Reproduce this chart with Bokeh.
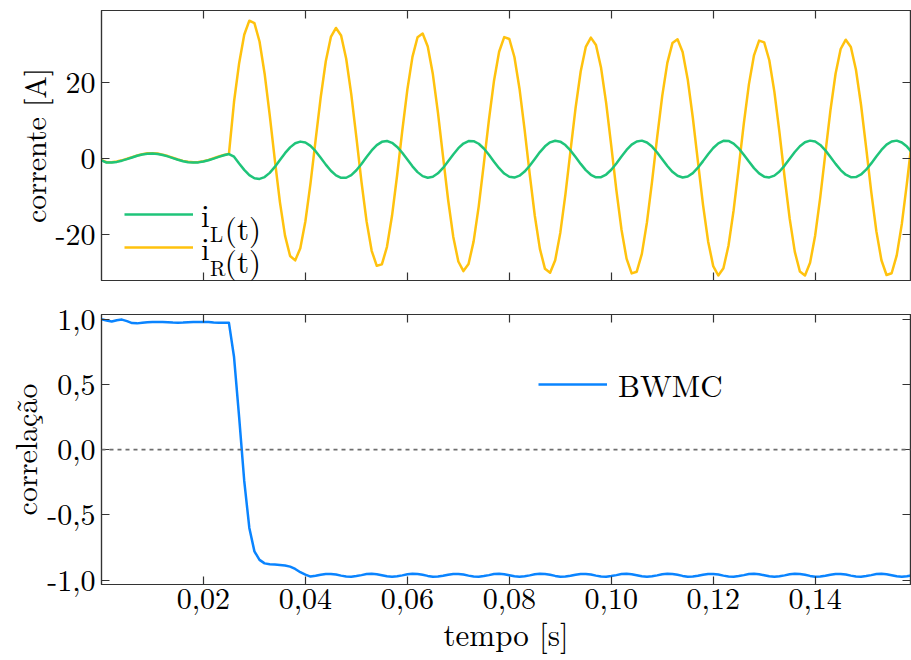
from bokeh.plotting import figure
from bokeh.models import (Range1d, LinearAxis, FixedTicker, Span, Legend, LegendItem,
                          Label, CustomJSTickFormatter)
from bokeh.core.properties import value
from bokeh.layouts import column
from bokeh.embed import file_html
from bokeh.resources import INLINE

# ---------------- data ----------------
t = [
    0.000, 0.001, 0.002, 0.003, 0.004, 0.005, 0.006, 0.007, 0.008, 0.009,
    0.010, 0.011, 0.012, 0.013, 0.014, 0.015, 0.016, 0.017, 0.018, 0.019,
    0.020, 0.021, 0.022, 0.023, 0.024, 0.025, 0.026, 0.027, 0.028, 0.029,
    0.030, 0.031, 0.032, 0.033, 0.034, 0.035, 0.036, 0.037, 0.038, 0.039,
    0.040, 0.041, 0.042, 0.043, 0.044, 0.045, 0.046, 0.047, 0.048, 0.049,
    0.050, 0.051, 0.052, 0.053, 0.054, 0.055, 0.056, 0.057, 0.058, 0.059,
    0.060, 0.061, 0.062, 0.063, 0.064, 0.065, 0.066, 0.067, 0.068, 0.069,
    0.070, 0.071, 0.072, 0.073, 0.074, 0.075, 0.076, 0.077, 0.078, 0.079,
    0.080, 0.081, 0.082, 0.083, 0.084, 0.085, 0.086, 0.087, 0.088, 0.089,
    0.090, 0.091, 0.092, 0.093, 0.094, 0.095, 0.096, 0.097, 0.098, 0.099,
    0.100, 0.101, 0.102, 0.103, 0.104, 0.105, 0.106, 0.107, 0.108, 0.109,
    0.110, 0.111, 0.112, 0.113, 0.114, 0.115, 0.116, 0.117, 0.118, 0.119,
    0.120, 0.121, 0.122, 0.123, 0.124, 0.125, 0.126, 0.127, 0.128, 0.129,
    0.130, 0.131, 0.132, 0.133, 0.134, 0.135, 0.136, 0.137, 0.138, 0.139,
    0.140, 0.141, 0.142, 0.143, 0.144, 0.145, 0.146, 0.147, 0.148, 0.149,
    0.150, 0.151, 0.152, 0.153, 0.154, 0.155, 0.156, 0.157, 0.158, 0.159,
]

i_R = [
    -0.45, -1.00, -1.00, -0.82, -0.50, -0.10, 0.35, 0.78, 1.12, 1.34,
    1.39, 1.27, 1.00, 0.62, 0.18, -0.27, -0.64, -0.90, -1.01, -0.95,
    -0.73, -0.38, 0.05, 0.50, 0.91, 1.20, 14.90, 25.05, 32.53, 36.22,
    35.60, 30.74, 22.28, 11.40, -0.40, -11.48, -20.31, -25.66, -26.81, -23.61,
    -16.52, -6.57, 4.83, 16.08, 25.56, 31.95, 34.31, 32.31, 26.21, 16.86,
    5.55, -6.14, -16.56, -24.29, -28.24, -27.87, -23.24, -15.02, -4.36, 7.22,
    18.10, 26.72, 31.87, 32.83, 29.44, 22.18, 12.05, 0.48, -10.93, -20.57,
    -27.11, -29.62, -27.76, -21.81, -12.59, -1.41, 10.15, 20.45, 28.06, 31.90,
    31.41, 26.68, 18.34, 7.58, -4.10, -15.07, -23.79, -29.03, -30.07, -26.77,
    -19.58, -9.54, 1.96, 13.29, 22.86, 29.33, 31.77, 29.85, 23.83, 14.55,
    3.31, -8.31, -18.67, -26.34, -30.22, -29.79, -25.11, -16.82, -6.11, 5.53,
    16.45, 25.13, 30.33, 31.33, 27.99, 20.77, 10.69, -0.85, -12.22, -21.82,
    -28.32, -30.79, -28.90, -22.91, -13.66, -2.44, 9.15, 19.48, 27.12, 30.99,
    30.53, 25.82, 17.51, 6.78, -4.88, -15.83, -24.52, -29.74, -30.77, -27.44,
    -20.24, -10.17, 1.34, 12.70, 22.28, 28.77, 31.22, 29.32, 23.31, 14.05,
    2.83, -8.78, -19.12, -26.77, -30.65, -30.20, -25.50, -17.21, -6.48, 5.17,
]

i_L = [
    -0.50, -1.08, -1.08, -0.91, -0.59, -0.18, 0.26, 0.69, 1.03, 1.25,
    1.30, 1.18, 0.91, 0.53, 0.09, -0.36, -0.73, -0.99, -1.10, -1.04,
    -0.82, -0.47, -0.04, 0.41, 0.82, 1.15, 0.47, -1.32, -3.01, -4.38,
    -5.21, -5.39, -4.90, -3.79, -2.23, -0.42, 1.38, 2.91, 3.98, 4.42,
    4.18, 3.30, 1.90, 0.17, -1.63, -3.25, -4.47, -5.11, -5.08, -4.38,
    -3.11, -1.45, 0.38, 2.10, 3.50, 4.36, 4.57, 4.10, 3.02, 1.48,
    -0.31, -2.08, -3.60, -4.65, -5.07, -4.82, -3.92, -2.50, -0.76, 1.05,
    2.69, 3.92, 4.57, 4.55, 3.86, 2.61, 0.96, -0.86, -2.58, -3.97,
    -4.82, -5.03, -4.54, -3.46, -1.91, -0.12, 1.66, 3.18, 4.23, 4.66,
    4.41, 3.52, 2.10, 0.37, -1.44, -3.07, -4.30, -4.95, -4.92, -4.23,
    -2.97, -1.31, 0.51, 2.23, 3.62, 4.47, 4.68, 4.20, 3.12, 1.57,
    -0.22, -2.00, -3.52, -4.57, -5.00, -4.75, -3.86, -2.44, -0.71, 1.11,
    2.74, 3.97, 4.62, 4.59, 3.90, 2.64, 0.99, -0.83, -2.55, -3.94,
    -4.79, -5.00, -4.52, -3.44, -1.89, -0.10, 1.68, 3.20, 4.25, 4.68,
    4.43, 3.54, 2.12, 0.39, -1.43, -3.06, -4.29, -4.94, -4.91, -4.22,
    -2.96, -1.31, 0.51, 2.23, 3.62, 4.47, 4.68, 4.20, 3.12, 1.57,
]

bwmc = [
    1.000, 0.990, 0.982, 0.992, 0.997, 0.985, 0.970, 0.968, 0.972, 0.976,
    0.978, 0.979, 0.978, 0.976, 0.974, 0.973, 0.974, 0.976, 0.978, 0.979,
    0.979, 0.978, 0.975, 0.973, 0.972, 0.972, 0.710, 0.250, -0.240, -0.600,
    -0.780, -0.845, -0.872, -0.878, -0.881, -0.884, -0.888, -0.897, -0.915, -0.940,
    -0.958, -0.973, -0.967, -0.959, -0.953, -0.953, -0.958, -0.966, -0.972, -0.974,
    -0.969, -0.962, -0.954, -0.952, -0.956, -0.963, -0.971, -0.974, -0.971, -0.964,
    -0.956, -0.952, -0.954, -0.960, -0.968, -0.974, -0.973, -0.967, -0.959, -0.953,
    -0.953, -0.958, -0.966, -0.972, -0.974, -0.969, -0.962, -0.954, -0.952, -0.956,
    -0.963, -0.971, -0.974, -0.971, -0.964, -0.956, -0.952, -0.954, -0.960, -0.968,
    -0.974, -0.973, -0.967, -0.959, -0.953, -0.953, -0.958, -0.966, -0.972, -0.974,
    -0.969, -0.962, -0.954, -0.952, -0.956, -0.963, -0.971, -0.974, -0.971, -0.964,
    -0.956, -0.952, -0.954, -0.960, -0.968, -0.974, -0.973, -0.967, -0.959, -0.953,
    -0.953, -0.958, -0.966, -0.972, -0.974, -0.969, -0.962, -0.954, -0.952, -0.956,
    -0.963, -0.971, -0.974, -0.971, -0.964, -0.956, -0.952, -0.954, -0.960, -0.968,
    -0.974, -0.973, -0.967, -0.959, -0.953, -0.953, -0.958, -0.966, -0.972, -0.974,
    -0.969, -0.962, -0.954, -0.952, -0.956, -0.963, -0.971, -0.974, -0.971, -0.964,
]

x_ticks = [0.02, 0.04, 0.06, 0.08, 0.10, 0.12, 0.14]
x_tick_labels = ["0,02", "0,04", "0,06", "0,08", "0,10", "0,12", "0,14"]
y1_ticks = [-20, 0, 20]
y1_tick_labels = ["-20", "0", "20"]
y2_ticks = [-1.0, -0.5, 0.0, 0.5, 1.0]
y2_tick_labels = ["-1,0", "-0,5", "0,0", "0,5", "1,0"]

# ---------------- style ----------------
FONT = "Latin Modern Roman"
GREEN = "#1FC47A"
YELLOW = "#FFC20E"
BLUE = "#0A84FF"
FRAME = "#333333"
X_END = 0.1587


def lookup_formatter(tick_values, tick_texts):
    return CustomJSTickFormatter(args=dict(tvals=tick_values, ttexts=tick_texts), code="""
        let best = 0;
        for (let i = 0; i < tvals.length; i++) {
            if (Math.abs(tvals[i] - tick) < Math.abs(tvals[best] - tick)) best = i;
        }
        return ttexts[best];
    """)


def blank_formatter():
    return CustomJSTickFormatter(code="return '';")


def style_axis(ax, tick_values, formatter, labelled):
    ax.ticker = FixedTicker(ticks=tick_values)
    ax.formatter = formatter
    ax.major_tick_in = 8
    ax.major_tick_out = 0
    ax.minor_tick_line_color = None
    ax.major_tick_line_color = FRAME
    ax.major_tick_line_width = 1.2
    ax.axis_line_color = FRAME
    ax.axis_line_width = 1.2
    ax.major_label_text_font = FONT
    ax.major_label_text_color = "black"
    ax.axis_label_text_font = FONT
    ax.axis_label_text_font_style = "normal"
    ax.axis_label_text_font_size = "31px"
    ax.axis_label_text_color = "black"
    if labelled:
        ax.major_label_text_font_size = "30px"
    else:
        ax.major_label_text_font_size = "0px"
        ax.major_label_standoff = 0


def make_fig(height, y_range, border_top, border_bottom):
    p = figure(width=911, height=height, x_range=Range1d(0, X_END), y_range=y_range,
               output_backend="svg", toolbar_location=None,
               min_border_left=100, min_border_right=1,
               min_border_top=border_top, min_border_bottom=border_bottom)
    p.grid.visible = False
    p.outline_line_color = FRAME
    p.outline_line_width = 1.2
    p.background_fill_color = "white"
    p.border_fill_color = "white"
    return p


def one_item_legend(text, renderer, loc, size="31px", standoff=8):
    return Legend(items=[LegendItem(label=value(text), renderers=[renderer])],
                  location=loc, glyph_width=69, glyph_height=50, label_height=50,
                  label_standoff=standoff, spacing=0, padding=0, margin=0,
                  border_line_alpha=0, background_fill_alpha=0,
                  label_text_font=FONT, label_text_font_size=size,
                  label_text_color="black")


def left_title(ax, text):
    ax.axis_label = text
    ax.axis_label_text_font_size = "30px"
    ax.major_label_standoff = 6
    ax.axis_label_standoff = -2


# ---------------- top panel: currents ----------------
p1 = make_fig(297, Range1d(-32.1, 38.9), 10, 17)
rR = p1.line(t, i_R, line_color=YELLOW, line_width=2.5, line_join="round")
rL = p1.line(t, i_L, line_color=GREEN, line_width=2.5, line_join="round")

style_axis(p1.xaxis[0], x_ticks, blank_formatter(), False)
style_axis(p1.yaxis[0], y1_ticks, lookup_formatter(y1_ticks, y1_tick_labels), True)
left_title(p1.yaxis[0], "corrente [A]")

ax_top1 = LinearAxis()
style_axis(ax_top1, x_ticks, blank_formatter(), False)
p1.add_layout(ax_top1, "above")
ax_right1 = LinearAxis()
style_axis(ax_right1, y1_ticks, blank_formatter(), False)
p1.add_layout(ax_right1, "right")

p1.add_layout(one_item_legend("i", rL, (23, 41)))
p1.add_layout(one_item_legend("i", rR, (23, 8)))

for txt, xx, yy, size in [("L", 0.02128, -19.74, "21px"), ("(t)", 0.02420, -18.16, "31px"),
                          ("R", 0.02128, -28.42, "21px"), ("(t)", 0.02420, -26.84, "31px")]:
    p1.add_layout(Label(x=xx, y=yy, text=txt, text_font=FONT, text_font_size=size,
                        text_color="black", text_baseline="alphabetic", text_align="left"))

# ---------------- bottom panel: correlation ----------------
p2 = make_fig(363, Range1d(-1.034, 1.036), 17, 76)
p2.add_layout(Span(location=0, dimension="width", line_color="#6E6E6E",
                   line_width=1.6, line_dash="4 4"))
rB = p2.line(t, bwmc, line_color=BLUE, line_width=2.5, line_join="round")

style_axis(p2.xaxis[0], x_ticks, lookup_formatter(x_ticks, x_tick_labels), True)
p2.xaxis[0].axis_label = "tempo [s]"
p2.xaxis[0].major_label_standoff = 3
p2.xaxis[0].axis_label_standoff = -1
style_axis(p2.yaxis[0], y2_ticks, lookup_formatter(y2_ticks, y2_tick_labels), True)
left_title(p2.yaxis[0], "correlação")

ax_top2 = LinearAxis()
style_axis(ax_top2, x_ticks, blank_formatter(), False)
p2.add_layout(ax_top2, "above")
ax_right2 = LinearAxis()
style_axis(ax_right2, y2_ticks, blank_formatter(), False)
p2.add_layout(ax_right2, "right")

p2.add_layout(one_item_legend("BWMC", rB, (437, 175), standoff=11))

layout = column(p1, p2, spacing=0)
open("out.html", "w").write(file_html(layout, INLINE))
